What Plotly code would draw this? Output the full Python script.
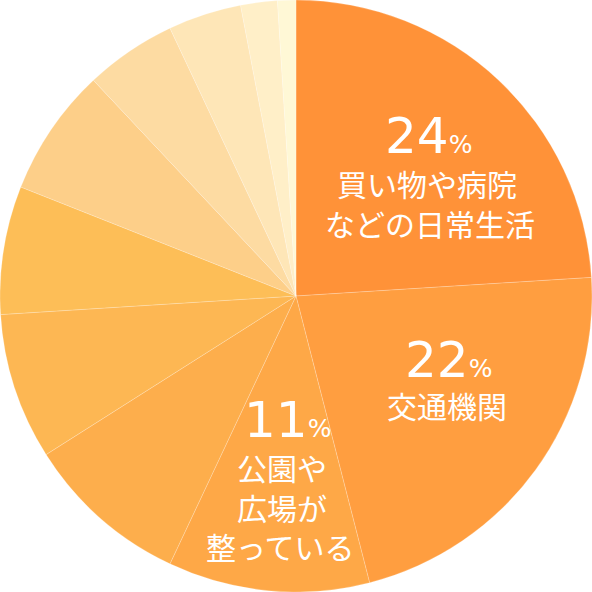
import plotly.graph_objects as go

categories = ["買い物や病院などの日常生活", "交通機関", "公園や広場が整っている",
              "項目4", "項目5", "項目6", "項目7", "項目8", "項目9", "項目10", "項目11"]
values = [24, 22, 11, 9, 8, 7, 7, 5, 4, 2, 1]
colors = ["#FF9238", "#FF9E40", "#FEA847", "#FDAE4C", "#FDB753", "#FDBE57",
          "#FDCF89", "#FDDBA2", "#FEE6B7", "#FFEFC8", "#FFF8D6"]

# labels shown on the chart (only the first three slices)
label_pcts = ["24", "22", "11"]
label_lines = [["買い物や病院", "などの日常生活"], ["交通機関"], ["公園や", "広場が", "整っている"]]

W = H = 592
num_pos = [(428, 136), (448, 360), (287, 420)]
line_pos = [[(427, 183), (430, 223)], [(447, 405)], [(282, 467), (282, 507), (280, 546)]]

fig = go.Figure(go.Pie(
    labels=categories, values=values, sort=False, direction="clockwise",
    rotation=0, textinfo="none", hoverinfo="none",
    marker=dict(colors=colors, line=dict(color="rgba(255,255,255,0.35)", width=0.6)),
    domain=dict(x=[0, 1], y=[0, 1]), showlegend=False,
))

annotations = []
for i in range(3):
    nx, ny = num_pos[i]
    annotations.append(dict(
        x=nx / W, y=1 - ny / H, xref="paper", yref="paper", showarrow=False,
        xanchor="center", yanchor="middle", borderpad=0, height=46, valign="middle",
        text=f"{label_pcts[i]}<span style='font-size:25px'>%</span>",
        font=dict(family="DejaVu Sans", size=50, color="white"),
    ))
    for txt, (tx, ty) in zip(label_lines[i], line_pos[i]):
        annotations.append(dict(
            x=tx / W, y=1 - ty / H, xref="paper", yref="paper", showarrow=False,
            xanchor="center", yanchor="middle", align="center", borderpad=0,
            height=36, valign="middle",
            text=txt,
            font=dict(family="Noto Sans CJK JP", size=30, color="white"),
        ))

fig.update_layout(
    width=W, height=H, margin=dict(l=0, r=0, t=0, b=0),
    paper_bgcolor="white", plot_bgcolor="white",
    annotations=annotations,
)
fig.write_html("out.html", config={"displayModeBar": False},
               post_script="document.body.style.margin='0';document.body.style.overflow='hidden';")
